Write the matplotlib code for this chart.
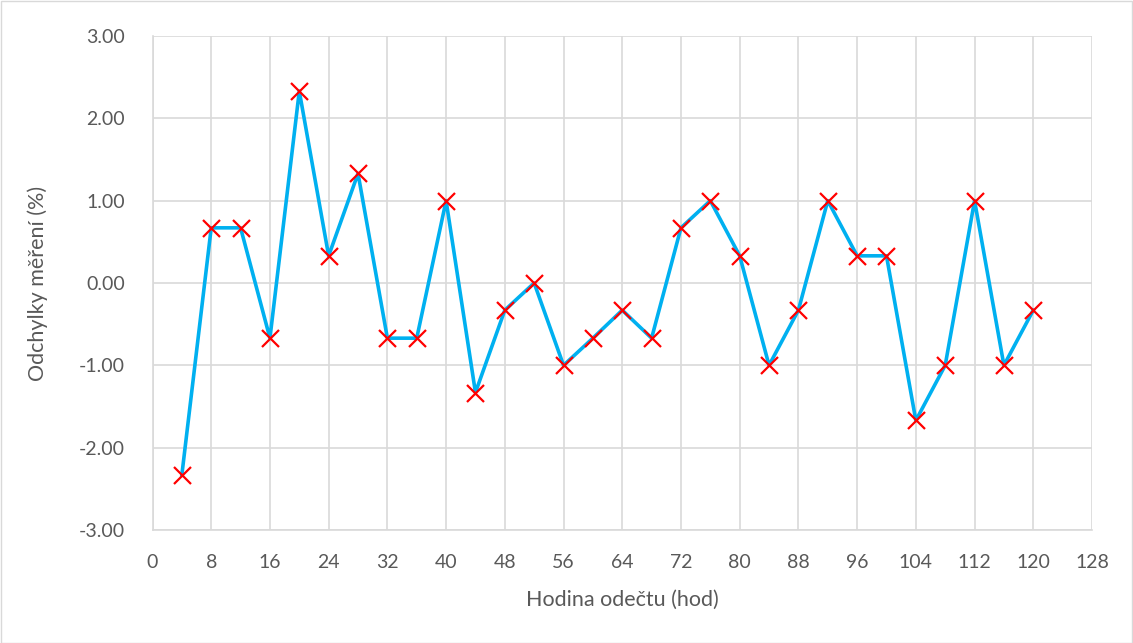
import matplotlib
matplotlib.use("Agg")
import matplotlib.pyplot as plt
from matplotlib.patches import Rectangle

hours = [4, 8, 12, 16, 20, 24, 28, 32, 36, 40, 44, 48, 52, 56, 60, 64, 68, 72,
         76, 80, 84, 88, 92, 96, 100, 104, 108, 112, 116, 120]
deviations = [-2.33, 0.67, 0.67, -0.67, 2.33, 0.33, 1.33, -0.67, -0.67, 1.00,
              -1.33, -0.33, 0.00, -1.00, -0.67, -0.33, -0.67, 0.67, 1.00, 0.33,
              -1.00, -0.33, 1.00, 0.33, 0.33, -1.67, -1.00, 1.00, -1.00, -0.33]
x_ticks = list(range(0, 129, 8))
y_ticks = [-3, -2, -1, 0, 1, 2, 3]

plt.rcParams['font.family'] = ['Lato', 'DejaVu Sans']

W, H = 1133, 643
fig = plt.figure(figsize=(W / 100, H / 100), dpi=100)
ax = fig.add_axes([152.5 / W, 1 - 530 / H, (1092 - 152.5) / W, (530 - 36) / H])

ax.plot(hours, deviations, color='#00B0F0', lw=2.6, zorder=3)
ax.scatter(hours, deviations, marker='x', s=150, color='#FF0000', linewidths=1.6, zorder=4)

ax.set_xlim(0, 128)
ax.set_ylim(-3, 3)
ax.set_xticks(x_ticks)
ax.set_yticks(y_ticks)
ax.set_yticklabels([f"{v:.2f}" for v in y_ticks])
ax.grid(True, color='#D9D9D9', lw=1.2)
ax.set_axisbelow(True)
for s in ['top', 'right']:
    ax.spines[s].set_visible(False)
for s in ['left', 'bottom']:
    ax.spines[s].set_color('#D9D9D9')
    ax.spines[s].set_linewidth(1.2)
ax.tick_params(length=0, labelsize=14, colors='#595959')
ax.tick_params(axis='x', pad=17)
ax.tick_params(axis='y', pad=20)
ax.set_xlabel('Hodina odečtu (hod)', fontsize=15.5, color='#595959', labelpad=14)
ax.set_ylabel('Odchylky měření (%)', fontsize=15.5, color='#595959', labelpad=22)

fig.patches.append(Rectangle((0.5 / W, 0.5 / H), 1 - 1.5 / W, 1 - 1.5 / H,
                             transform=fig.transFigure, fill=False,
                             edgecolor='#D9D9D9', lw=1))

fig.savefig('out.png', dpi=100)
